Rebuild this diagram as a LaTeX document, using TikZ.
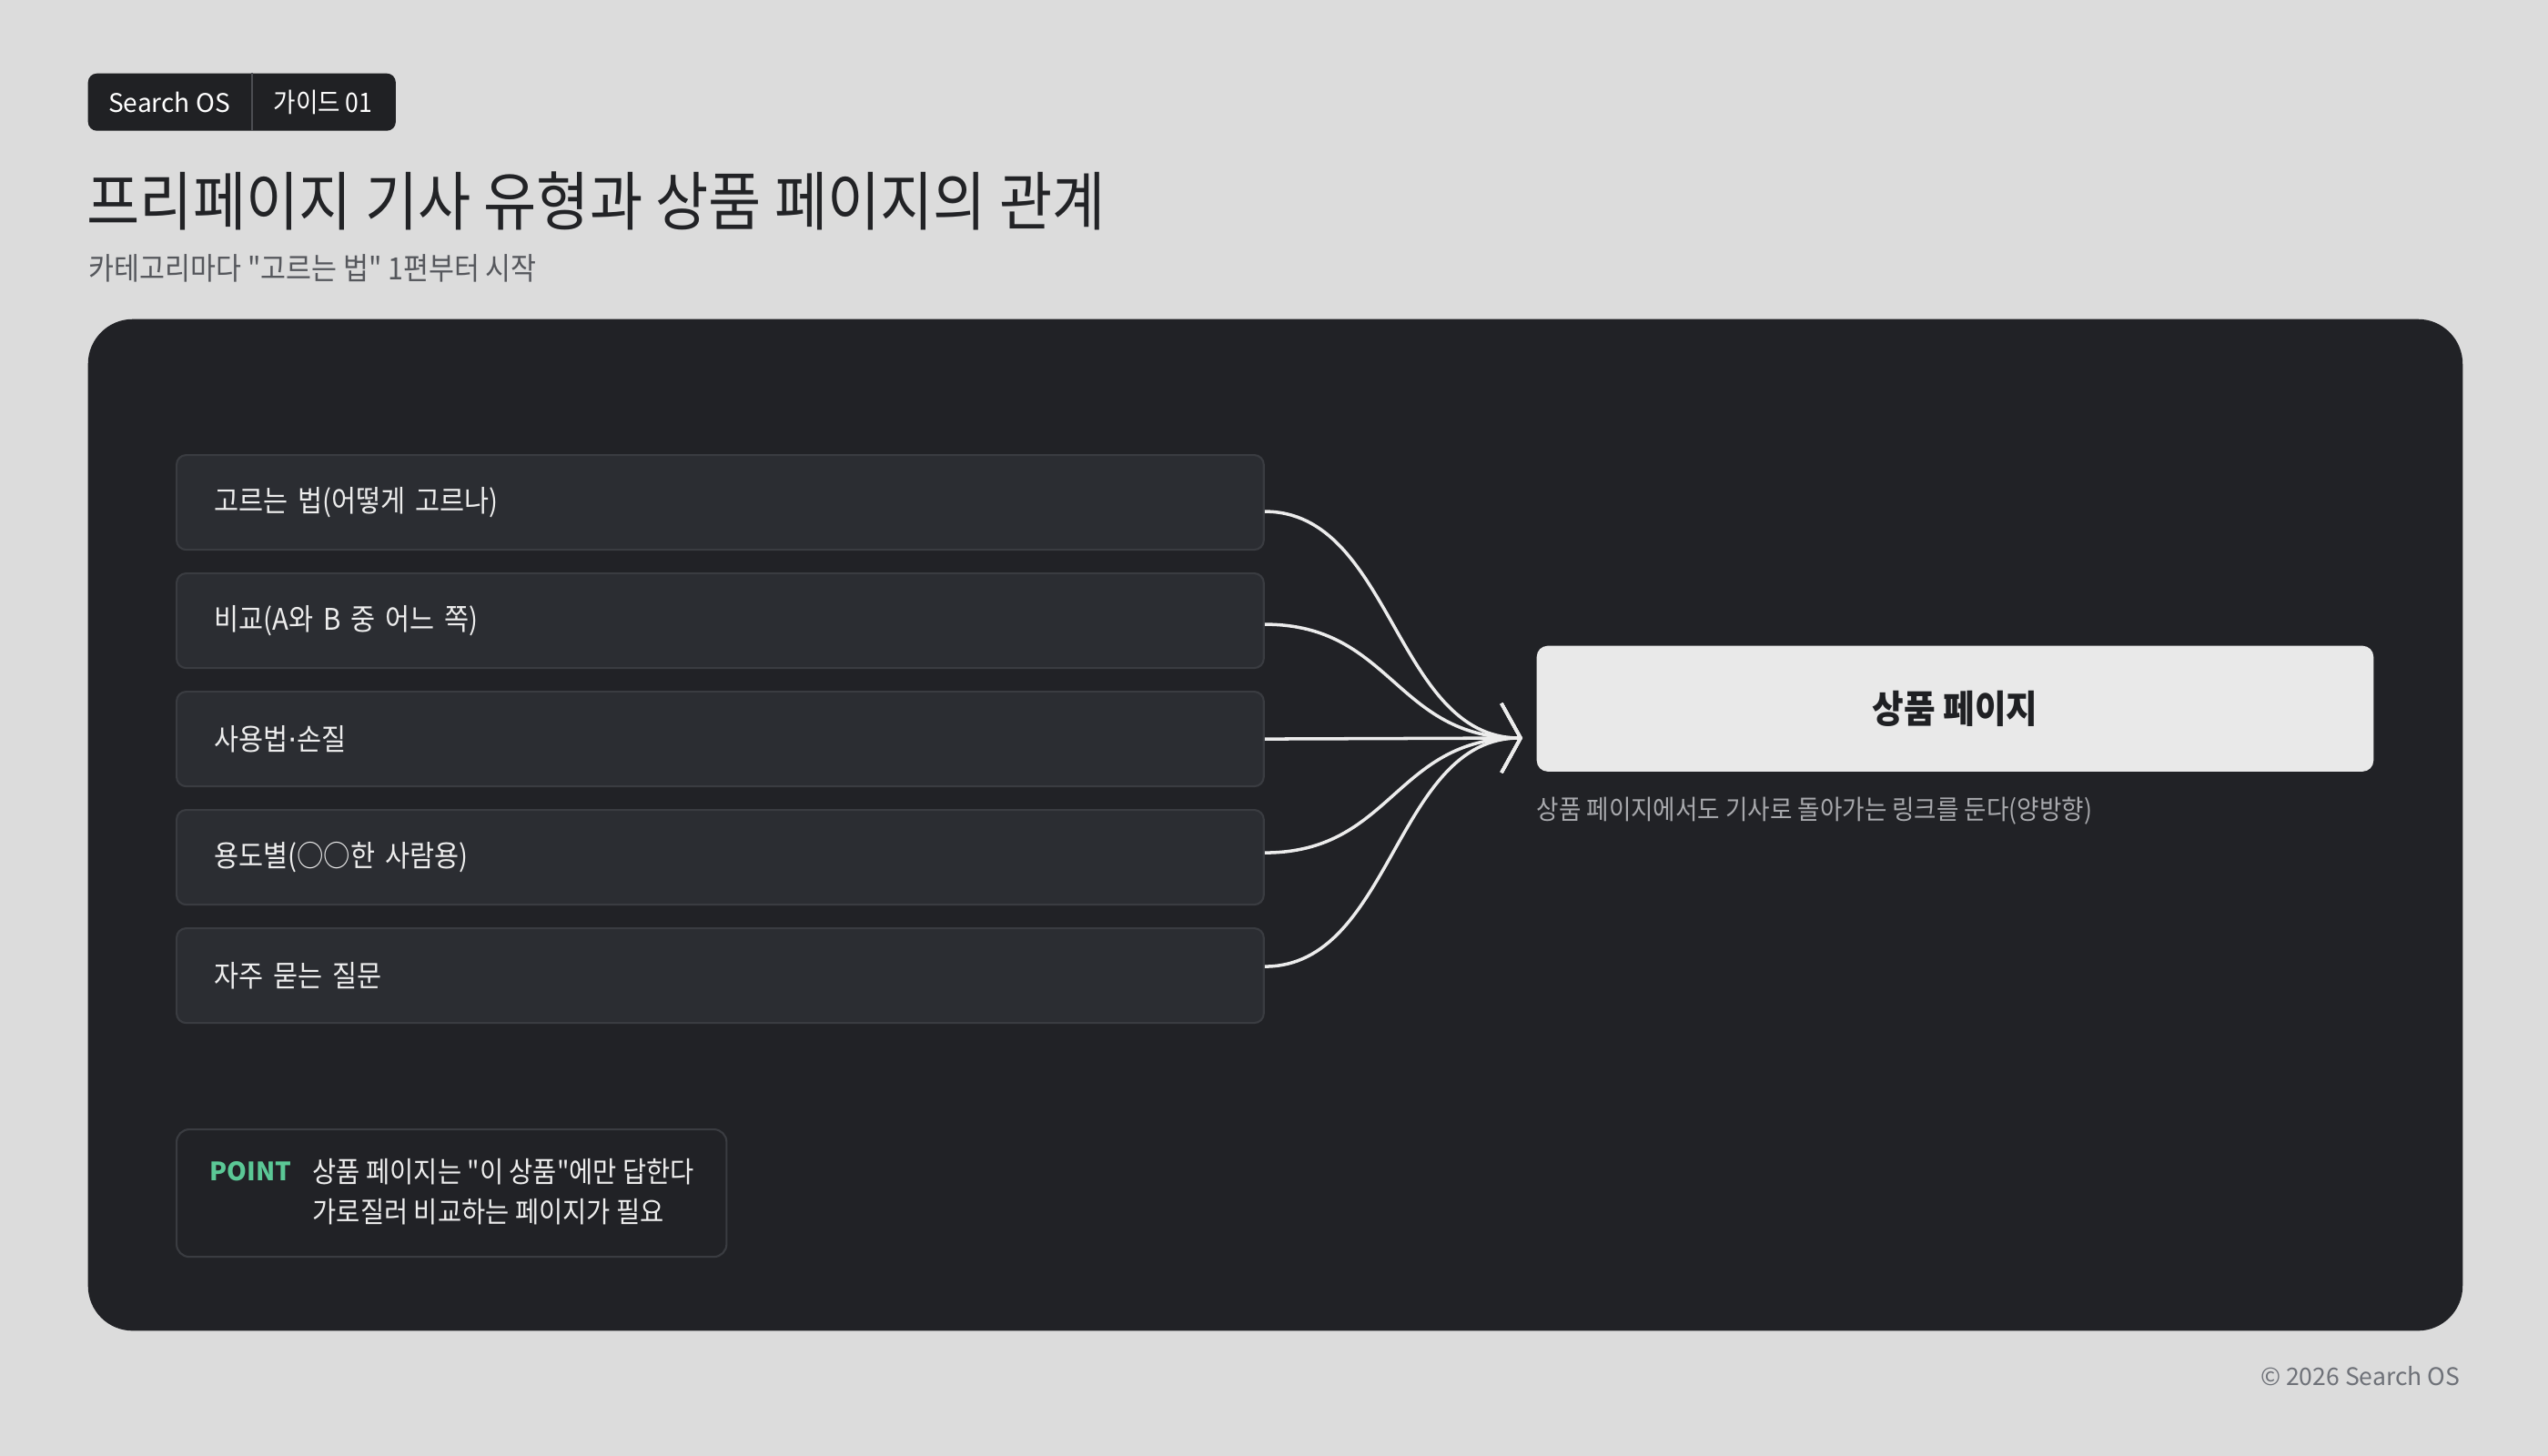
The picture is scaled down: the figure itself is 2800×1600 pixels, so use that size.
\documentclass[tikz,border=0pt]{standalone}
\usepackage{fontspec}
\setmainfont[FakeStretch=0.9]{Noto Sans CJK KR}
\newfontfamily\kr[FakeStretch=0.9]{Noto Sans CJK KR}
\newfontfamily\latinfont{Noto Sans CJK KR}
\newfontfamily\dotfont{DejaVu Sans}
\usetikzlibrary{arrows.meta}
\definecolor{bg}{HTML}{DCDCDC}
\definecolor{tagc}{HTML}{202124}
\definecolor{tagline}{HTML}{4C4E53}
\definecolor{titlec}{HTML}{222326}
\definecolor{subc}{HTML}{55575C}
\definecolor{panel}{HTML}{212226}
\definecolor{boxfill}{HTML}{2B2D32}
\definecolor{boxline}{HTML}{3A3C41}
\definecolor{boxtext}{HTML}{EDEDED}
\definecolor{prodc}{HTML}{E9E9E9}
\definecolor{prodtext}{HTML}{1F2023}
\definecolor{capc}{HTML}{A8A9AD}
\definecolor{connc}{HTML}{ECECEC}
\definecolor{pointgreen}{HTML}{5BC896}
\definecolor{footc}{HTML}{6E7178}
\newcommand\mdot{{\dotfont ·}}
\tikzset{
  itembox/.style={draw=boxline, fill=boxfill, line width=0.6pt, rounded corners=3pt,
    minimum width=11.94cm, minimum height=1.04cm, text width=11.12cm,
    inner xsep=0.41cm, inner ysep=0pt, align=left, anchor=north west,
    text=boxtext, font=\kr\fontsize{9.3}{11}\selectfont},
  conn/.style={draw=connc, line width=1pt,
    -{Straight Barb[length=0.21cm, width=0.76cm]}},
  plain/.style={inner sep=0pt},
}
\begin{document}
\kr
\begin{tikzpicture}[x=0.01cm, y=-0.01cm]
\useasboundingbox[fill=bg] (0,0) rectangle (2800,1600);

% tag
\node[plain, fill=tagc, rounded corners=2.8pt, minimum width=3.38cm, minimum height=0.63cm, anchor=north west] (tag) at (96,80) {};
\node[plain, text=white, font=\latinfont\fontsize{8.0}{10}\selectfont] (tag1) at (186,112) {Search OS};
\node[plain, text=white, font=\kr\fontsize{8.4}{10}\selectfont] (tag2) at (355,112) {가이드 01};
\draw[tagline, line width=0.6pt] (277,80) -- (277,143);

% title
\node[plain, anchor=west, text=titlec, font=\kr\fontsize{20}{24}\selectfont] (title) at (95,221) {프리페이지 기사 유형과 상품 페이지의 관계};
\node[plain, anchor=west, text=subc, font=\kr\fontsize{9.6}{11}\selectfont] (subtitle) at (97,295) {카테고리마다 "고르는 법" 1편부터 시작};

% panel
\node[plain, fill=panel, rounded corners=14pt, minimum width=26.08cm, minimum height=11.11cm, anchor=north west] (panel) at (96,350) {};

% items
\node[itembox] (b1) at (193,499) {고르는 법(어떻게 고르나)};
\node[itembox] (b2) at (193,629) {비교(A와 B 중 어느 쪽)};
\node[itembox] (b3) at (193,759) {사용법\mdot 손질};
\node[itembox] (b4) at (193,889) {용도별(○○한 사람용)};
\node[itembox] (b5) at (193,1019) {자주 묻는 질문};

% product page
\node[plain, fill=prodc, rounded corners=3.4pt, minimum width=9.19cm, minimum height=1.38cm, anchor=north west, text=prodtext, font=\kr\bfseries\fontsize{11.9}{14}\selectfont] (prod) at (1688,709) {상품 페이지};
\node[plain, anchor=west, text=capc, font=\kr\fontsize{8.4}{10}\selectfont] (cap) at (1688,891) {상품 페이지에서도 기사로 돌아가는 링크를 둔다(양방향)};

% connectors
\coordinate (tip) at (1673,811);
\draw[conn] ([yshift=-0.1cm]b1.east) .. controls +(140,0) and +(-140,0) .. (tip);
\draw[conn] ([yshift=-0.04cm]b2.east) .. controls +(140,0) and +(-140,0) .. (tip);
\draw[conn] (b3.east) -- (tip);
\draw[conn] ([yshift=0.05cm]b4.east) .. controls +(140,0) and +(-140,0) .. (tip);
\draw[conn] ([yshift=0.1cm]b5.east) .. controls +(140,0) and +(-140,0) .. (tip);

% point box
\node[plain, draw=boxline, line width=0.6pt, rounded corners=4pt, minimum width=6.04cm, minimum height=1.4cm, anchor=north west] (pbox) at (193,1240) {};
\node[plain, anchor=west, text=pointgreen, font=\latinfont\bfseries\fontsize{7.9}{10}\selectfont] (plabel) at (230,1287) {POINT};
\node[plain, anchor=west, align=left, text=boxtext, font=\kr\fontsize{9.0}{12.5}\selectfont] (ptext) at (343,1310) {상품 페이지는 "이 상품"에만 답한다\\가로질러 비교하는 페이지가 필요};

% footer
\node[plain, anchor=east, text=footc, font=\latinfont\fontsize{7.55}{9}\selectfont] (foot) at (2704,1512) {© 2026 Search OS};
\end{tikzpicture}
\end{document}
